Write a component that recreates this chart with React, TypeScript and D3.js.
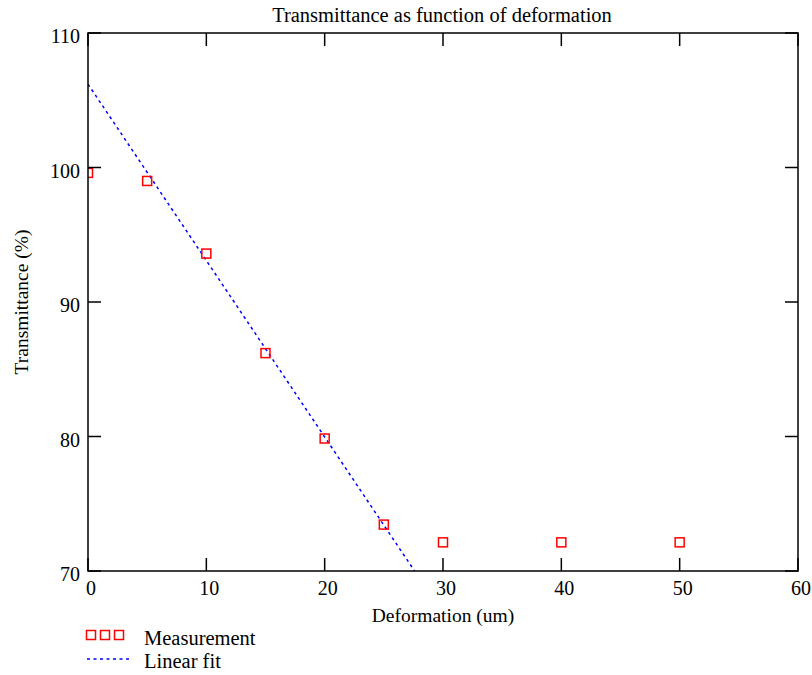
import React from "react";
import * as d3 from "d3";

const deformation = [0, 5, 10, 15, 20, 25, 30, 40, 50];
const transmittance = [99.6, 99.0, 93.6, 86.2, 79.85, 73.45, 72.13, 72.13, 72.13];
const fitX = [0, 27.6];
const fitY = [106.2, 70];
const xTicks = [0, 10, 20, 30, 40, 50, 60];
const yTicks = [70, 80, 90, 100, 110];

const W = 812;
const H = 675;
const left = 88;
const right = 798;
const top = 33;
const bottom = 571;
const FONT = "'Liberation Serif', 'Times New Roman', serif";

export default function App() {
  const x = d3.scaleLinear().domain([0, 60]).range([left, right]);
  const y = d3.scaleLinear().domain([70, 110]).range([bottom, top]);
  const line = d3
    .line<number>()
    .x((_, i) => x(fitX[i]))
    .y((d) => y(d));
  const tickLen = 13;

  return (
    <svg
      width={W}
      height={H}
      style={{ position: "absolute", left: 0, top: 0, background: "#fff" }}
      fontFamily={FONT}
    >
      <defs>
        <clipPath id="plot">
          <rect x={left} y={top} width={right - left} height={bottom - top} />
        </clipPath>
      </defs>
      <rect x={0} y={0} width={W} height={H} fill="#fff" />
      {/* title */}
      <text x={(left + right) / 2 - 1} y={22} textAnchor="middle" fontSize={20.5} fill="#000">
        Transmittance as function of deformation
      </text>
      {/* fit line */}
      <g clipPath="url(#plot)">
        <path
          d={line(fitY) || ""}
          fill="none"
          stroke="#0000ff"
          strokeWidth={1.5}
          strokeDasharray="3,3.5"
        />
        {/* markers */}
        {deformation.map((d, i) => (
          <rect
            key={"m" + i}
            x={x(d) - 4.5}
            y={y(transmittance[i]) - 4.5}
            width={9}
            height={9}
            fill="none"
            stroke="#ff0000"
            strokeWidth={1.5}
          />
        ))}
      </g>
      {/* frame */}
      <rect
        x={left}
        y={top}
        width={right - left}
        height={bottom - top}
        fill="none"
        stroke="#000"
        strokeWidth={1.5}
      />
      {/* ticks */}
      {xTicks.map((t) => (
        <g key={"xt" + t}>
          <line x1={x(t)} x2={x(t)} y1={bottom} y2={bottom - tickLen} stroke="#000" strokeWidth={1.5} />
          <line x1={x(t)} x2={x(t)} y1={top} y2={top + tickLen} stroke="#000" strokeWidth={1.5} />
          <text x={x(t) + 3} y={bottom + 24} textAnchor="middle" fontSize={20} fill="#000">
            {t}
          </text>
        </g>
      ))}
      {yTicks.map((t) => (
        <g key={"yt" + t}>
          <line x1={left} x2={left + tickLen} y1={y(t)} y2={y(t)} stroke="#000" strokeWidth={1.5} />
          <line x1={right} x2={right - tickLen} y1={y(t)} y2={y(t)} stroke="#000" strokeWidth={1.5} />
          <text x={80} y={y(t) + 10} textAnchor="end" fontSize={20} fill="#000">
            {t}
          </text>
        </g>
      ))}
      {/* axis labels */}
      <text x={(left + right) / 2} y={622} textAnchor="middle" fontSize={19.5} fill="#000">
        Deformation (um)
      </text>
      <text
        transform={`translate(28, ${(top + bottom) / 2}) rotate(-90)`}
        textAnchor="middle"
        fontSize={19.5}
        fill="#000"
      >
        Transmittance (%)
      </text>
      {/* legend */}
      {[91, 105, 119].map((cx) => (
        <rect
          key={"lg" + cx}
          x={cx - 4.5}
          y={635 - 4.5}
          width={9}
          height={9}
          fill="none"
          stroke="#ff0000"
          strokeWidth={1.5}
        />
      ))}
      <text x={144} y={645} fontSize={20.5} fill="#000">
        Measurement
      </text>
      <line x1={87} x2={129} y1={659} y2={659} stroke="#0000ff" strokeWidth={1.5} strokeDasharray="3,3.5" />
      <text x={144} y={668} fontSize={20.5} fill="#000">
        Linear fit
      </text>
    </svg>
  );
}
